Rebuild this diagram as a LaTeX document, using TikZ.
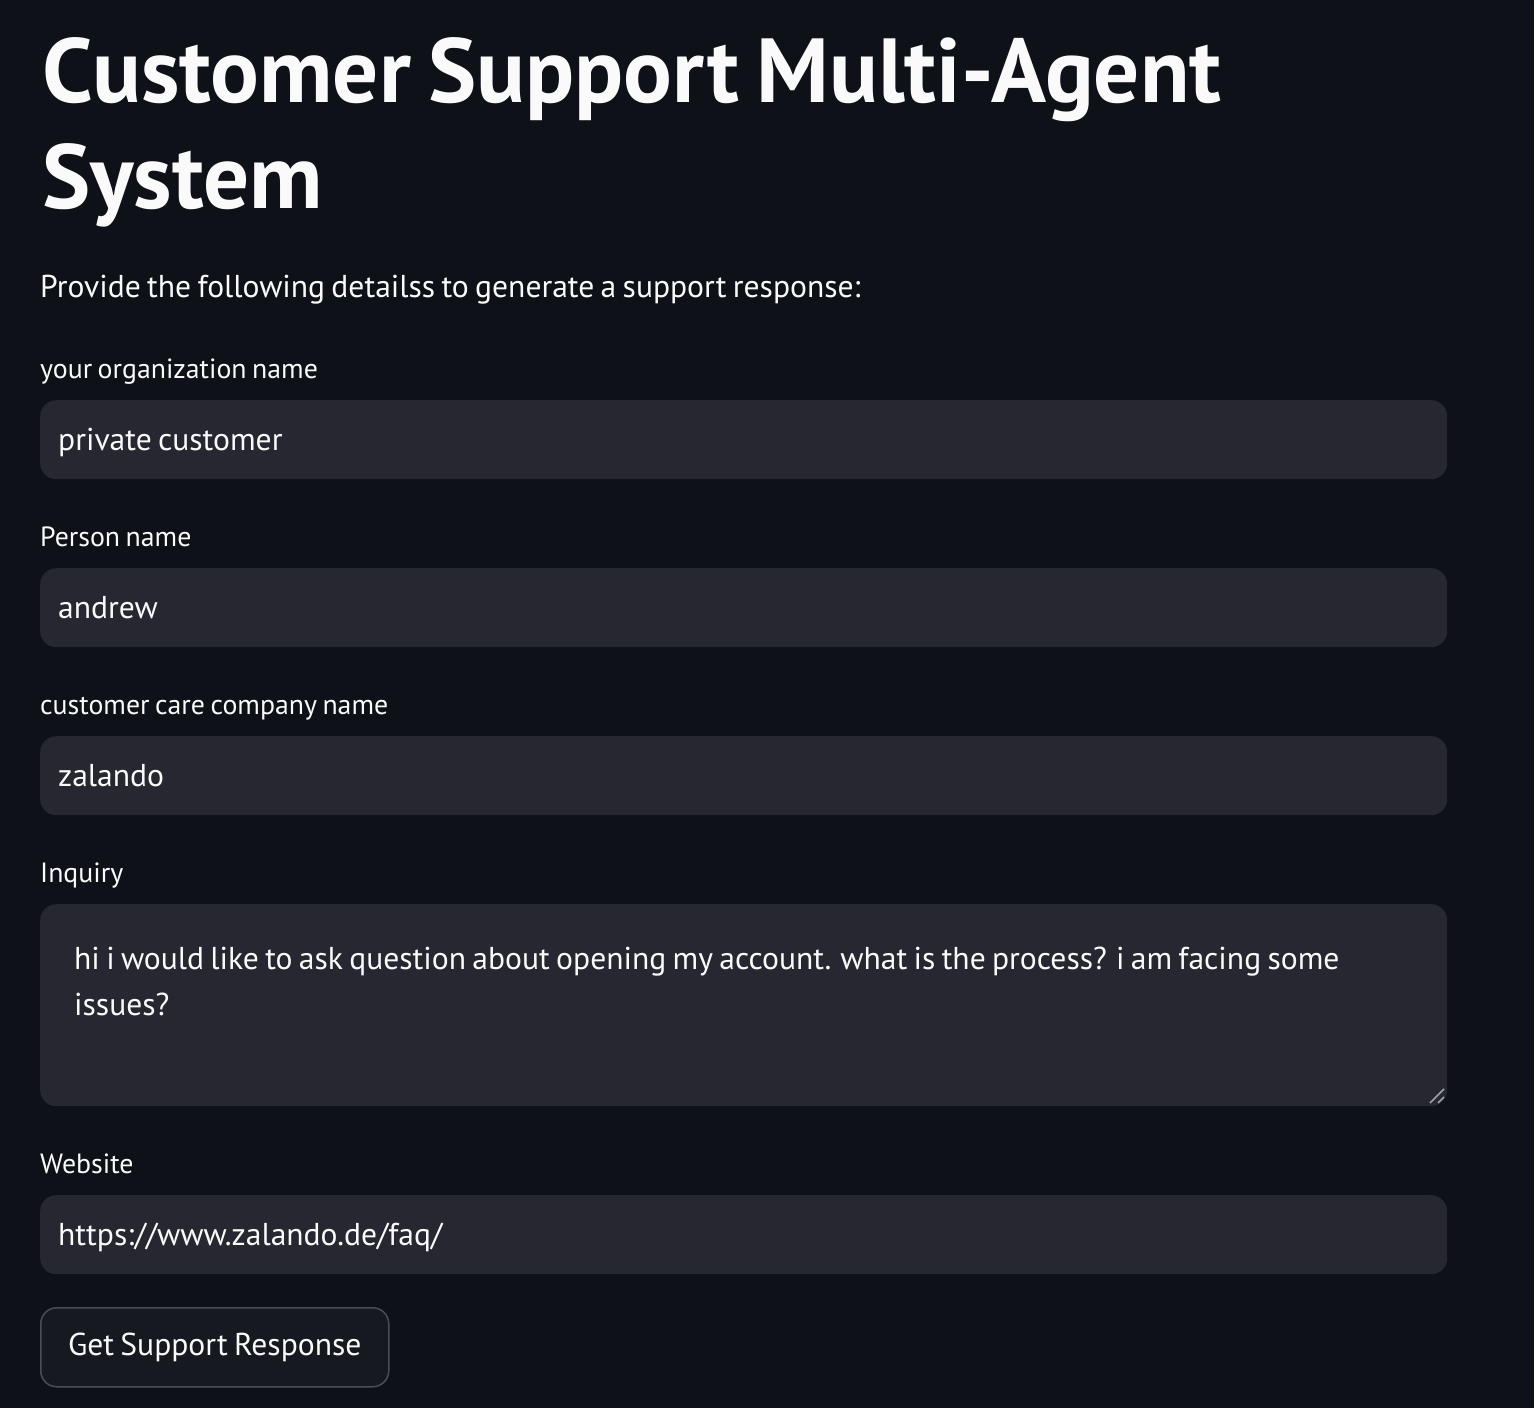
\documentclass[tikz,border=0pt]{standalone}
\usepackage{fontspec}
\setmainfont{PT Sans}[WordSpace=0.75]
\usetikzlibrary{positioning}
\definecolor{pagebg}{HTML}{0E1117}
\definecolor{fieldbg}{HTML}{262730}
\definecolor{btnbg}{HTML}{161920}
\definecolor{btnline}{HTML}{4A4D55}
\definecolor{grip}{HTML}{A0A0A6}
\definecolor{txt}{HTML}{FAFAFA}
\def\weburl{https://www.zalando.de/faq/}

\begin{document}
\begin{tikzpicture}[x=1pt,y=-1pt,
  lbl/.style={anchor=base west,inner sep=0pt,text=txt,font=\fontsize{27.8}{34}\selectfont},
  val/.style={anchor=base west,inner sep=0pt,text=txt,font=\fontsize{31.6}{46}\selectfont},
  head/.style={anchor=base west,inner sep=0pt,text=txt,font=\fontsize{91}{106}\bfseries\selectfont},
  field/.style={anchor=north west,fill=fieldbg,rounded corners=16pt,minimum width=1407pt,minimum height=79pt,inner sep=0pt}]
 \fill[pagebg] (0,0) rectangle (1534,1408);
 \useasboundingbox (0,0) rectangle (1534,1408);
 % heading
 \node[head] (title1) at (42,102) {Customer Support Multi-Agent};
 \node[head] (title2) at (42,208) {System};
 \node[val] (intro) at (40,297) {Provide the following detailss to generate a support response:};
 % one-line fields
 \foreach \nm/\lab/\val/\top in {org/your organization name/private customer/400,
     person/Person name/andrew/568,
     company/customer care company name/zalando/736,
     web/Website/\weburl/1195}
 {
  \node[field] (\nm box) at (40,\top) {};
  \node[lbl] (\nm lbl) at (40,\top-22) {\lab};
  \node[val] (\nm val) at (58,\top+50) {\val};
 }
 % inquiry text area
 \node[field,minimum height=202pt] (inqbox) at (40,904) {};
 \node[lbl] (inqlbl) at (40,882) {Inquiry};
 \node[val,align=left] (inqval) at (74,1015) {hi i would like to ask question about opening my account. what is the process? i am facing some\\issues?};
 \coordinate (grip1) at (1430,1103);
 \coordinate (grip2) at (1444,1089);
 \coordinate (grip3) at (1438,1103);
 \coordinate (grip4) at (1444,1097);
 \draw[grip,line width=1.5pt] (grip1) -- (grip2) (grip3) -- (grip4);
 % button
 \node[anchor=north west,draw=btnline,fill=btnbg,line width=1.5pt,rounded corners=16pt,
       minimum width=348pt,minimum height=79pt,text=txt,font=\fontsize{31.6}{46}\selectfont] (btn) at (40,1307) {Get Support Response};
\end{tikzpicture}
\end{document}
